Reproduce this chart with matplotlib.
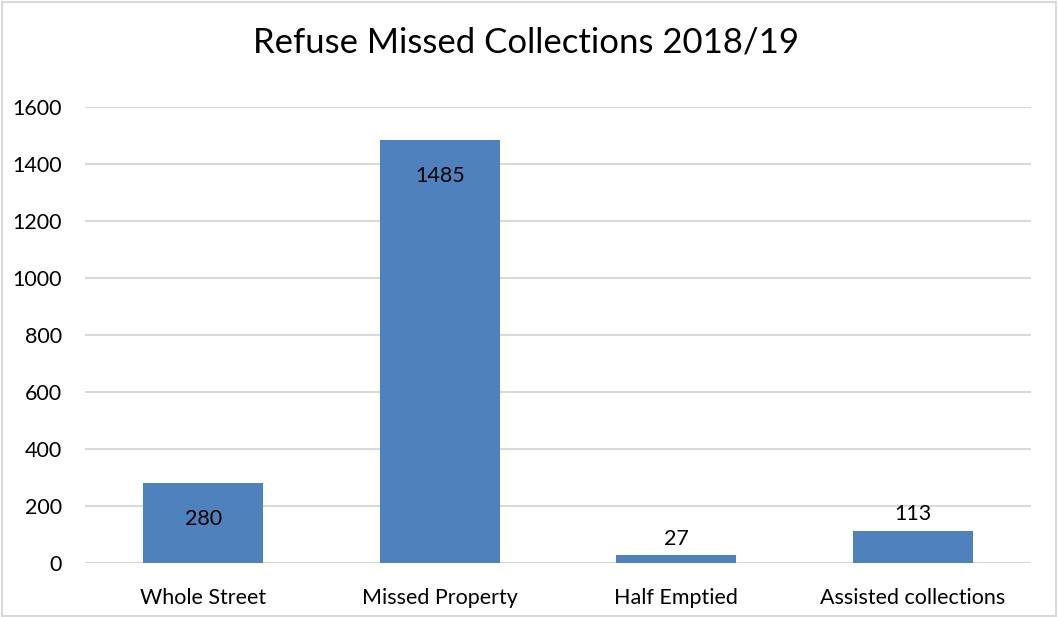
import matplotlib.pyplot as plt
import numpy as np

plt.rcParams['font.family'] = ['Lato', 'DejaVu Sans']

# Chart data
categories = ['Whole Street', 'Missed Property', 'Half Emptied', 'Assisted collections']
missed = [280, 1485, 27, 113]
label_inside = [True, True, False, False]

fig = plt.figure(figsize=(10.58, 6.17), dpi=100)
ax = fig.add_axes([85 / 1058, 1 - 563 / 617, (1031 - 85) / 1058, (563 - 107) / 617])

x = np.arange(len(categories))
ax.bar(x, missed, width=0.507, color='#4F81BD', zorder=3)

# Value labels: inside end for tall bars, outside end for short ones
for xi, v, inside in zip(x, missed, label_inside):
    if inside:
        ax.annotate(str(v), (xi, v), xytext=(0, -26), textcoords='offset points',
                    ha='center', va='center', fontsize=15.5, color='#000000')
    else:
        ax.annotate(str(v), (xi, v), xytext=(0, 12), textcoords='offset points',
                    ha='center', va='center', fontsize=15.5, color='#000000')

ax.set_xlim(-0.5, len(categories) - 0.5)
ax.set_ylim(0, 1600)
ax.set_yticks(np.arange(0, 1601, 200))
ax.set_xticks(x)
ax.set_xticklabels(categories)
ax.tick_params(axis='both', length=0, labelsize=15.5, colors='#000000')
ax.tick_params(axis='x', pad=18)
ax.tick_params(axis='y', pad=16.5)
ax.grid(axis='y', color='#D9D9D9', linewidth=1.5, zorder=0)
for s in ax.spines.values():
    s.set_visible(False)

fig.text(0.497, 1 - 42 / 617, 'Refuse Missed Collections 2018/19',
         ha='center', va='center', fontsize=25, color='#000000')

# light border around the chart
fig.patches.append(plt.Rectangle((0.002, 0.002), 0.996, 0.994, transform=fig.transFigure,
                                 fill=False, edgecolor='#D9D9D9', linewidth=1.5))

fig.savefig('out.png', dpi=100)
